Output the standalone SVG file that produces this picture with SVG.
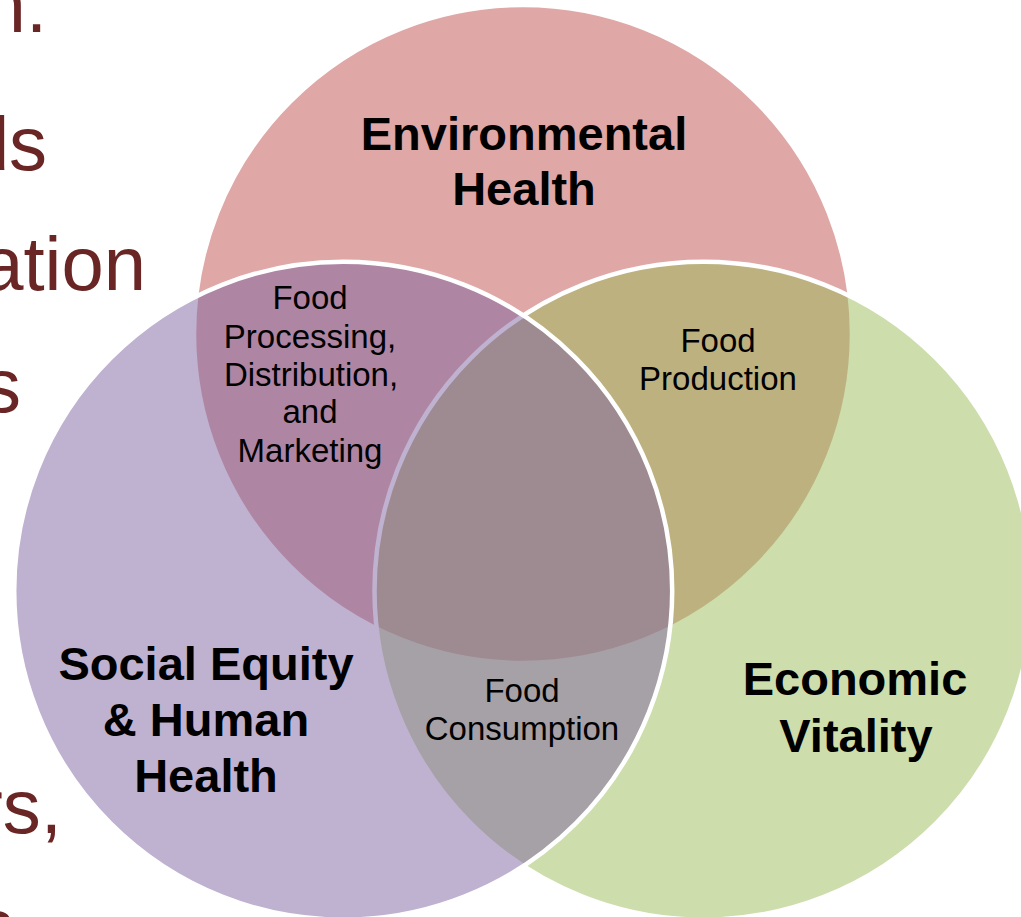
<svg xmlns="http://www.w3.org/2000/svg" width="1021" height="917" viewBox="0 0 1021 917">
  <style>
    .bg { font-family: "Liberation Sans", Arial, sans-serif; font-size: 76px; fill: #6A2525; text-anchor: end; }
    .circle { fill-opacity: 0.5; stroke: #FFFFFF; stroke-width: 4.5; }
    .title { font-family: "Liberation Sans", Arial, sans-serif; font-size: 47px; font-weight: bold; fill: #000000; text-anchor: middle; }
    .label { font-family: "Liberation Sans", Arial, sans-serif; font-size: 33px; fill: #000000; text-anchor: middle; }
  </style>
  <rect x="0" y="0" width="1021" height="917" fill="#FFFFFF"/>
  <g id="background-text">
    <text class="bg" x="47" y="32">n:</text>
    <text class="bg" style="text-anchor:start" x="-33" y="170">d<tspan x="9">s</tspan></text>
    <text class="bg" x="146" y="290">ation</text>
    <text class="bg" x="21" y="412">s</text>
    <text class="bg" x="62" y="833">rs,</text>
    <text class="bg" x="14" y="952">s</text>
  </g>
  <g id="circles">
    <g id="environmental-health">
      <circle class="circle" cx="523" cy="334" r="329" fill="#C0504D"/>
    </g>
    <g id="economic-vitality">
      <circle class="circle" cx="703.5" cy="590.7" r="329" fill="#9BBB59"/>
    </g>
    <g id="social-equity">
      <circle class="circle" cx="343.2" cy="590.7" r="329" fill="#8064A2"/>
    </g>
  </g>
  <g id="connectors"/>
  <g id="labels">
    <g id="label-environmental">
      <text class="title" x="524" y="150">Environmental</text>
      <text class="title" x="524" y="205">Health</text>
    </g>
    <g id="label-social">
      <text class="title" x="206" y="680">Social Equity</text>
      <text class="title" x="206" y="736">&amp; Human</text>
      <text class="title" x="206" y="792">Health</text>
    </g>
    <g id="label-economic">
      <text class="title" x="855" y="695">Economic</text>
      <text class="title" x="856" y="752">Vitality</text>
    </g>
    <g id="label-processing">
      <text class="label" x="310" y="309">Food</text>
      <text class="label" x="310" y="348">Processing,</text>
      <text class="label" x="311" y="386">Distribution,</text>
      <text class="label" x="310" y="423">and</text>
      <text class="label" x="310" y="462">Marketing</text>
    </g>
    <g id="label-production">
      <text class="label" x="718" y="352">Food</text>
      <text class="label" x="718" y="390">Production</text>
    </g>
    <g id="label-consumption">
      <text class="label" x="522" y="702">Food</text>
      <text class="label" x="522" y="740">Consumption</text>
    </g>
  </g>
</svg>
